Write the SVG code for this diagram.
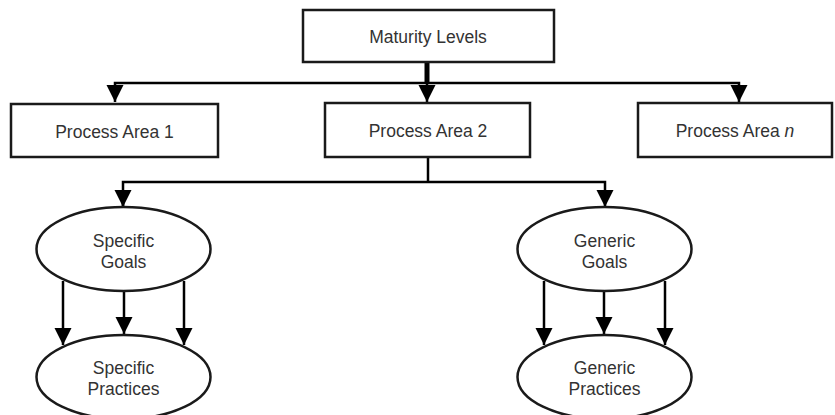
<svg xmlns="http://www.w3.org/2000/svg" width="835" height="415" viewBox="0 0 835 415">
<style>
.box{fill:#fff;stroke:#1a1a1a;stroke-width:2.5}
.t{font-family:"Liberation Sans",Arial,sans-serif;font-size:17.5px;fill:#333;text-anchor:middle}
.ln{fill:none;stroke:#000;stroke-width:2.5}
</style>
<defs>
<marker id="dn" markerUnits="userSpaceOnUse" markerWidth="18" markerHeight="18" viewBox="0 0 18 18" refX="9" refY="17" orient="0">
<path d="M0.5,0 L17.5,0 L9,17 Z" fill="#000"/>
</marker>
</defs>
<g id="connectors">
<line x1="427" y1="62" x2="427" y2="83" stroke="#000" stroke-width="5"/>
<polyline class="ln" points="115,102 115,83 739,83 739,102" marker-start="url(#dn)" marker-end="url(#dn)"/>
<line class="ln" x1="427" y1="83" x2="427" y2="102" marker-end="url(#dn)"/>
<line class="ln" x1="428" y1="157" x2="428" y2="182"/>
<polyline class="ln" points="123,207 123,182 605,182 605,207" marker-end="url(#dn)"/>
<line class="ln" x1="123" y1="190" x2="123" y2="207" marker-end="url(#dn)"/>
<line class="ln" x1="63" y1="281" x2="63" y2="345" marker-end="url(#dn)"/>
<line class="ln" x1="124" y1="291" x2="124" y2="334" marker-end="url(#dn)"/>
<line class="ln" x1="184" y1="281" x2="184" y2="345" marker-end="url(#dn)"/>
<line class="ln" x1="544" y1="281" x2="544" y2="345" marker-end="url(#dn)"/>
<line class="ln" x1="604" y1="291" x2="604" y2="334" marker-end="url(#dn)"/>
<line class="ln" x1="665" y1="281" x2="665" y2="345" marker-end="url(#dn)"/>
</g>
<g id="maturity-levels">
<rect class="box" x="303" y="10" width="251" height="52"/>
<text class="t" x="428" y="43">Maturity Levels</text>
</g>
<g id="process-area-1">
<rect class="box" x="11" y="104" width="207" height="53"/>
<text class="t" x="114.5" y="138">Process Area 1</text>
</g>
<g id="process-area-2">
<rect class="box" x="325" y="103" width="205" height="54"/>
<text class="t" x="428" y="137">Process Area 2</text>
</g>
<g id="process-area-n">
<rect class="box" x="638" y="103" width="194" height="54"/>
<text class="t" x="735" y="137">Process Area <tspan font-style="italic">n</tspan></text>
</g>
<g id="specific-goals">
<ellipse class="box" cx="123.5" cy="249" rx="87" ry="42"/>
<text class="t" x="123.5" y="247">Specific</text>
<text class="t" x="123.5" y="268">Goals</text>
</g>
<g id="specific-practices">
<ellipse class="box" cx="123.5" cy="377" rx="87" ry="42"/>
<text class="t" x="123.5" y="374">Specific</text>
<text class="t" x="123.5" y="395">Practices</text>
</g>
<g id="generic-goals">
<ellipse class="box" cx="604.5" cy="249" rx="87" ry="42"/>
<text class="t" x="604.5" y="247">Generic</text>
<text class="t" x="604.5" y="268">Goals</text>
</g>
<g id="generic-practices">
<ellipse class="box" cx="604.5" cy="377" rx="87" ry="42"/>
<text class="t" x="604.5" y="374">Generic</text>
<text class="t" x="604.5" y="395">Practices</text>
</g>
</svg>
